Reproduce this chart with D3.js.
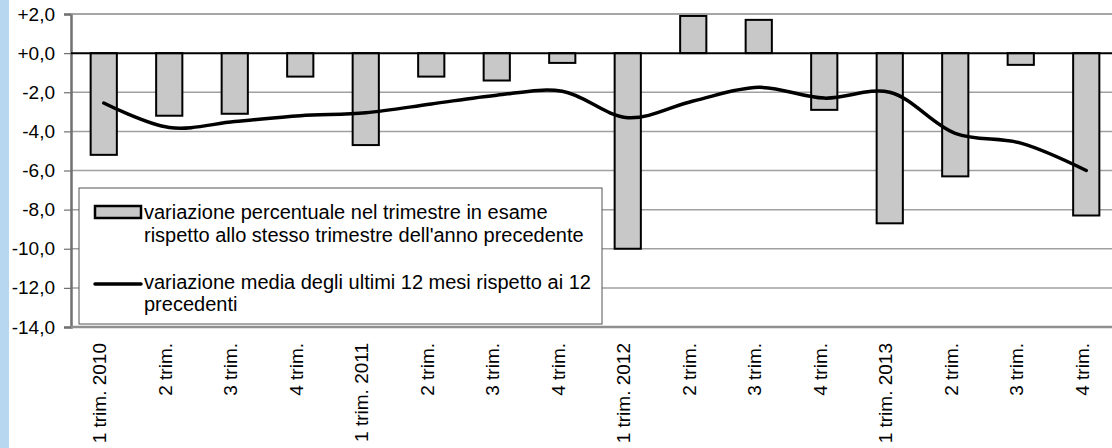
<!DOCTYPE html>
<html><head><meta charset="utf-8">
<script src="https://cdn.jsdelivr.net/npm/d3@7"></script>
<style>
html,body{margin:0;padding:0;background:#fff;overflow:hidden}
text{font-family:"Liberation Sans",Arial,sans-serif;fill:#000}
</style></head><body>
<svg id="c" width="1112" height="448"></svg>
<script>
const categories = ["1 trim. 2010","2 trim.","3 trim.","4 trim.","1 trim. 2011","2 trim.","3 trim.","4 trim.","1 trim. 2012","2 trim.","3 trim.","4 trim.","1 trim. 2013","2 trim.","3 trim.","4 trim."];
const barValues = [-5.2,-3.2,-3.1,-1.2,-4.7,-1.2,-1.4,-0.5,-10.0,1.9,1.7,-2.9,-8.7,-6.3,-0.6,-8.3];
const lineValues = [-2.55,-3.8,-3.5,-3.2,-3.05,-2.6,-2.15,-1.95,-3.3,-2.45,-1.75,-2.3,-2.0,-4.1,-4.6,-6.0];
const yTicks = [2,0,-2,-4,-6,-8,-10,-12,-14];
const legendLabels = [["variazione percentuale nel trimestre in esame","rispetto allo stesso trimestre dell'anno precedente"],["variazione media degli ultimi 12 mesi rispetto ai 12","precedenti"]];

const svg = d3.select("#c");
svg.append("rect").attr("x",0).attr("y",0).attr("width",9).attr("height",448).attr("fill","#b7d7f0");

const x0 = 71, x1 = 71 + 16*65.5;
const x = d3.scaleBand().domain(d3.range(categories.length)).range([x0,x1]).paddingInner(0.6).paddingOuter(0.3);
const xc = i => x(i) + x.bandwidth()/2;
const y = d3.scaleLinear().domain([-14,2]).range([327,14]);

const fmt = v => (v>=0?"+":"") + d3.format(".1f")(v).replace("−","-").replace(".",",");

// gridlines
svg.append("g").selectAll("line").data(yTicks.filter(v=>v!==0 && v!==-14)).join("line")
  .attr("x1",x0).attr("x2",1112).attr("y1",d=>y(d)).attr("y2",d=>y(d))
  .attr("stroke","#a0a0a0").attr("stroke-width",1.5);

// y axis
const yAxis = d3.axisLeft(y).tickValues(yTicks).tickFormat(fmt).tickSize(7).tickPadding(9);
const gy = svg.append("g").attr("transform",`translate(${x0},0)`).call(yAxis);
gy.select(".domain").attr("stroke","#707070").attr("stroke-width",2.5);
gy.selectAll(".tick line").attr("stroke","#707070").attr("stroke-width",1.2);
gy.selectAll(".tick text").attr("font-size",19).attr("font-family","Liberation Sans, Arial, sans-serif").attr("fill","#000");

// x axis
const xAxis = d3.axisBottom(x).tickFormat(i=>categories[i]).tickSize(0).tickPadding(0);
const gx = svg.append("g").attr("transform",`translate(0,${y(-14)})`).call(xAxis);
gx.select(".domain").remove();
gx.selectAll(".tick text").attr("font-size",19).attr("font-family","Liberation Sans, Arial, sans-serif").attr("fill","#000")
  .attr("text-anchor","end").attr("dy","0.35em").attr("transform","translate(-4,16) rotate(-90)").attr("x",0).attr("y",0);
svg.append("line").attr("x1",x0).attr("x2",1112).attr("y1",y(-14)).attr("y2",y(-14)).attr("stroke","#909090").attr("stroke-width",2.5);

// bars
svg.append("g").selectAll("rect").data(barValues).join("rect")
  .attr("x",(d,i)=>x(i)).attr("width",x.bandwidth())
  .attr("y",d=>y(Math.max(0,d))).attr("height",d=>Math.abs(y(d)-y(0)))
  .attr("fill","#c8c8c8").attr("stroke","#000").attr("stroke-width",2);

// zero line
svg.append("line").attr("x1",x0).attr("x2",1112).attr("y1",y(0)).attr("y2",y(0)).attr("stroke","#000").attr("stroke-width",2);

// line
const line = d3.line().x((d,i)=>xc(i)).y(d=>y(d)).curve(d3.curveCatmullRom.alpha(0.5));
svg.append("path").datum(lineValues).attr("d",line).attr("fill","none").attr("stroke","#000").attr("stroke-width",3.5).attr("stroke-linecap","round");

// top gridline
svg.append("line").attr("x1",x0).attr("x2",1112).attr("y1",y(2)).attr("y2",y(2)).attr("stroke","#a0a0a0").attr("stroke-width",1.5);

// legend
const lg = svg.append("g");
lg.append("rect").attr("x",79).attr("y",188).attr("width",523).attr("height",136).attr("fill","#fff").attr("stroke","#555").attr("stroke-width",1);
lg.append("rect").attr("x",95).attr("y",206).attr("width",46).attr("height",12).attr("fill","#c8c8c8").attr("stroke","#000").attr("stroke-width",2.5);
lg.append("line").attr("x1",95).attr("x2",141).attr("y1",284).attr("y2",284).attr("stroke","#000").attr("stroke-width",3.5).attr("stroke-linecap","round");
const lt = [[219,242],[289,311]];
legendLabels.forEach((ls,k)=>{
  ls.forEach((s,j)=>{
    lg.append("text").attr("x",144).attr("y",lt[k][j]).attr("font-size",20).text(s);
  });
});
</script>
</body></html>
